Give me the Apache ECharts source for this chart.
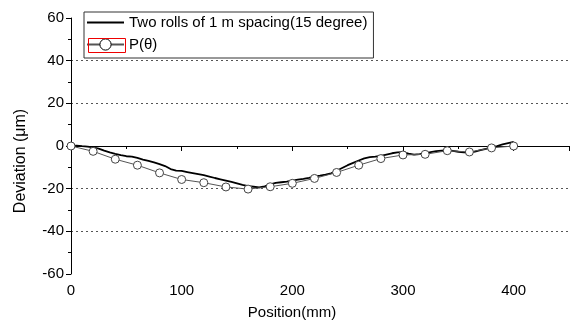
<!DOCTYPE html>
<html>
<head>
<meta charset="utf-8">
<script src="https://cdn.jsdelivr.net/npm/echarts@6/dist/echarts.min.js"></script>
<style>
  html, body { margin: 0; padding: 0; background: #fff; }
  #chart { width: 573px; height: 325px; }
</style>
</head>
<body>
<div id="chart"></div>
<script>
// measured profile, two rolls of 1 m spacing (15 degree)
const rollPos = [0, 5, 10, 15, 20, 25, 30, 35, 40, 45, 50, 55, 60, 65, 70, 75, 80, 85, 90, 95,
  100, 105, 110, 115, 120, 125, 130, 135, 140, 145, 150, 155, 160, 165, 170, 175, 180, 185, 190, 195,
  200, 205, 210, 215, 220, 225, 230, 235, 240, 245, 250, 255, 260, 265, 270, 275, 280, 285, 290, 295,
  300, 305, 310, 315, 320, 325, 330, 335, 340, 345, 350, 355, 360, 365, 370, 375, 380, 385, 390, 395, 400]
const rollDev = [0, 0.2, -0.1, -0.3, -0.6, -1.2, -2.2, -3.0, -3.7, -4.3, -4.8, -5.0, -5.6, -6.4, -7.0, -7.7, -8.5, -9.4, -10.8, -11.5,
  -11.7, -12.2, -12.7, -13.2, -13.7, -14.3, -15.0, -15.6, -16.2, -16.8, -17.5, -18.2, -18.8, -19.1, -19.4, -18.9, -18.0, -17.3, -17.0, -16.7,
  -16.2, -15.8, -15.4, -14.9, -14.3, -13.9, -13.4, -12.8, -11.6, -10.3, -9.0, -7.9, -6.8, -5.8, -5.2, -5.0, -4.6, -4.0, -3.4, -3.0,
  -2.9, -3.6, -4.0, -3.8, -3.5, -2.9, -2.4, -2.2, -2.0, -2.3, -2.7, -3.0, -3.1, -2.6, -1.9, -1.3, -0.7, 0.0, 0.8, 1.4, 1.9]

// P(theta) points every 20 mm
const pPos = [0, 20, 40, 60, 80, 100, 120, 140, 160, 180, 200, 220, 240, 260, 280, 300, 320, 340, 360, 380, 400]
const pDev = [0, -2.5, -6.2, -9.0, -12.6, -15.7, -17.2, -19.2, -20.2, -19.1, -17.5, -15.2, -12.4, -9.0, -5.9, -4.2, -3.9, -2.2, -2.8, -0.9, 0]

const seriesNames = ['Two rolls of 1 m spacing(15 degree)', 'P(\u03b8)']

const font = 'Arial, "Liberation Sans", sans-serif'

const chart = echarts.init(document.getElementById('chart'), null, { renderer: 'canvas' })

const axisCommon = {
  axisLine: { show: true, lineStyle: { color: '#000', width: 1 } },
  axisTick: { show: true, length: 5, lineStyle: { color: '#000' } },
  minorTick: { show: true, splitNumber: 2, length: 3, lineStyle: { color: '#000' } },
  axisLabel: { color: '#000', fontSize: 15, fontFamily: font },
  nameTextStyle: { color: '#000', fontSize: 15, fontFamily: font }
}

const option = {
  animation: false,
  backgroundColor: '#fff',
  grid: { left: 71, right: 4, top: 18, bottom: 50 },
  legend: {
    orient: 'vertical',
    left: 84,
    top: 12,
    padding: [3, 6, 6, 2],
    itemGap: 7,
    itemWidth: 37,
    itemHeight: 14,
    borderColor: '#333',
    borderWidth: 1,
    textStyle: { color: '#000', fontSize: 15, fontFamily: font },
    data: [
      { name: seriesNames[0], itemStyle: { opacity: 0 } },
      { name: seriesNames[1], itemStyle: { color: '#fff', borderColor: '#000', borderWidth: 1 } }
    ]
  },
  xAxis: Object.assign({}, axisCommon, {
    type: 'value',
    min: 0,
    max: 450,
    interval: 100,
    name: 'Position(mm)',
    nameLocation: 'middle',
    nameGap: 31,
    nameTextStyle: Object.assign({}, axisCommon.nameTextStyle, { padding: [0, 56, 0, 0] }),
    splitLine: { show: false },
    axisLabel: Object.assign({}, axisCommon.axisLabel, { showMaxLabel: false, margin: 9 })
  }),
  yAxis: Object.assign({}, axisCommon, {
    type: 'value',
    min: -60,
    max: 60,
    interval: 20,
    name: 'Deviation (\u03bcm)',
    nameLocation: 'middle',
    nameGap: 42,
    nameTextStyle: Object.assign({}, axisCommon.nameTextStyle, { fontSize: 16, padding: [0, 30, 0, 0] }),
    splitLine: {
      show: true,
      showMinLine: false,
      showMaxLine: false,
      lineStyle: { color: '#555', type: [2, 3], width: 1 }
    },
    axisLabel: Object.assign({}, axisCommon.axisLabel, { margin: 7 })
  }),
  series: [
    {
      name: seriesNames[0],
      type: 'line',
      data: rollPos.map((x, i) => [x, rollDev[i]]),
      showSymbol: false,
      symbol: 'none',
      color: '#000',
      lineStyle: { color: '#000', width: 1.8 },
      z: 3
    },
    {
      name: seriesNames[1],
      type: 'line',
      data: pPos.map((x, i) => [x, pDev[i]]),
      symbol: 'circle',
      symbolSize: 8,
      color: '#000',
      itemStyle: { color: '#fff', borderColor: '#444', borderWidth: 1 },
      lineStyle: { color: '#555', width: 1 },
      z: 4
    }
  ],
  graphic: [
    {
      // red selection box around the second legend icon
      type: 'rect',
      left: 86,
      top: 36,
      shape: { width: 37, height: 14 },
      style: { fill: 'none', stroke: '#e00', lineWidth: 1 },
      z: 100
    }
  ]
}

chart.setOption(option)
</script>
</body>
</html>
